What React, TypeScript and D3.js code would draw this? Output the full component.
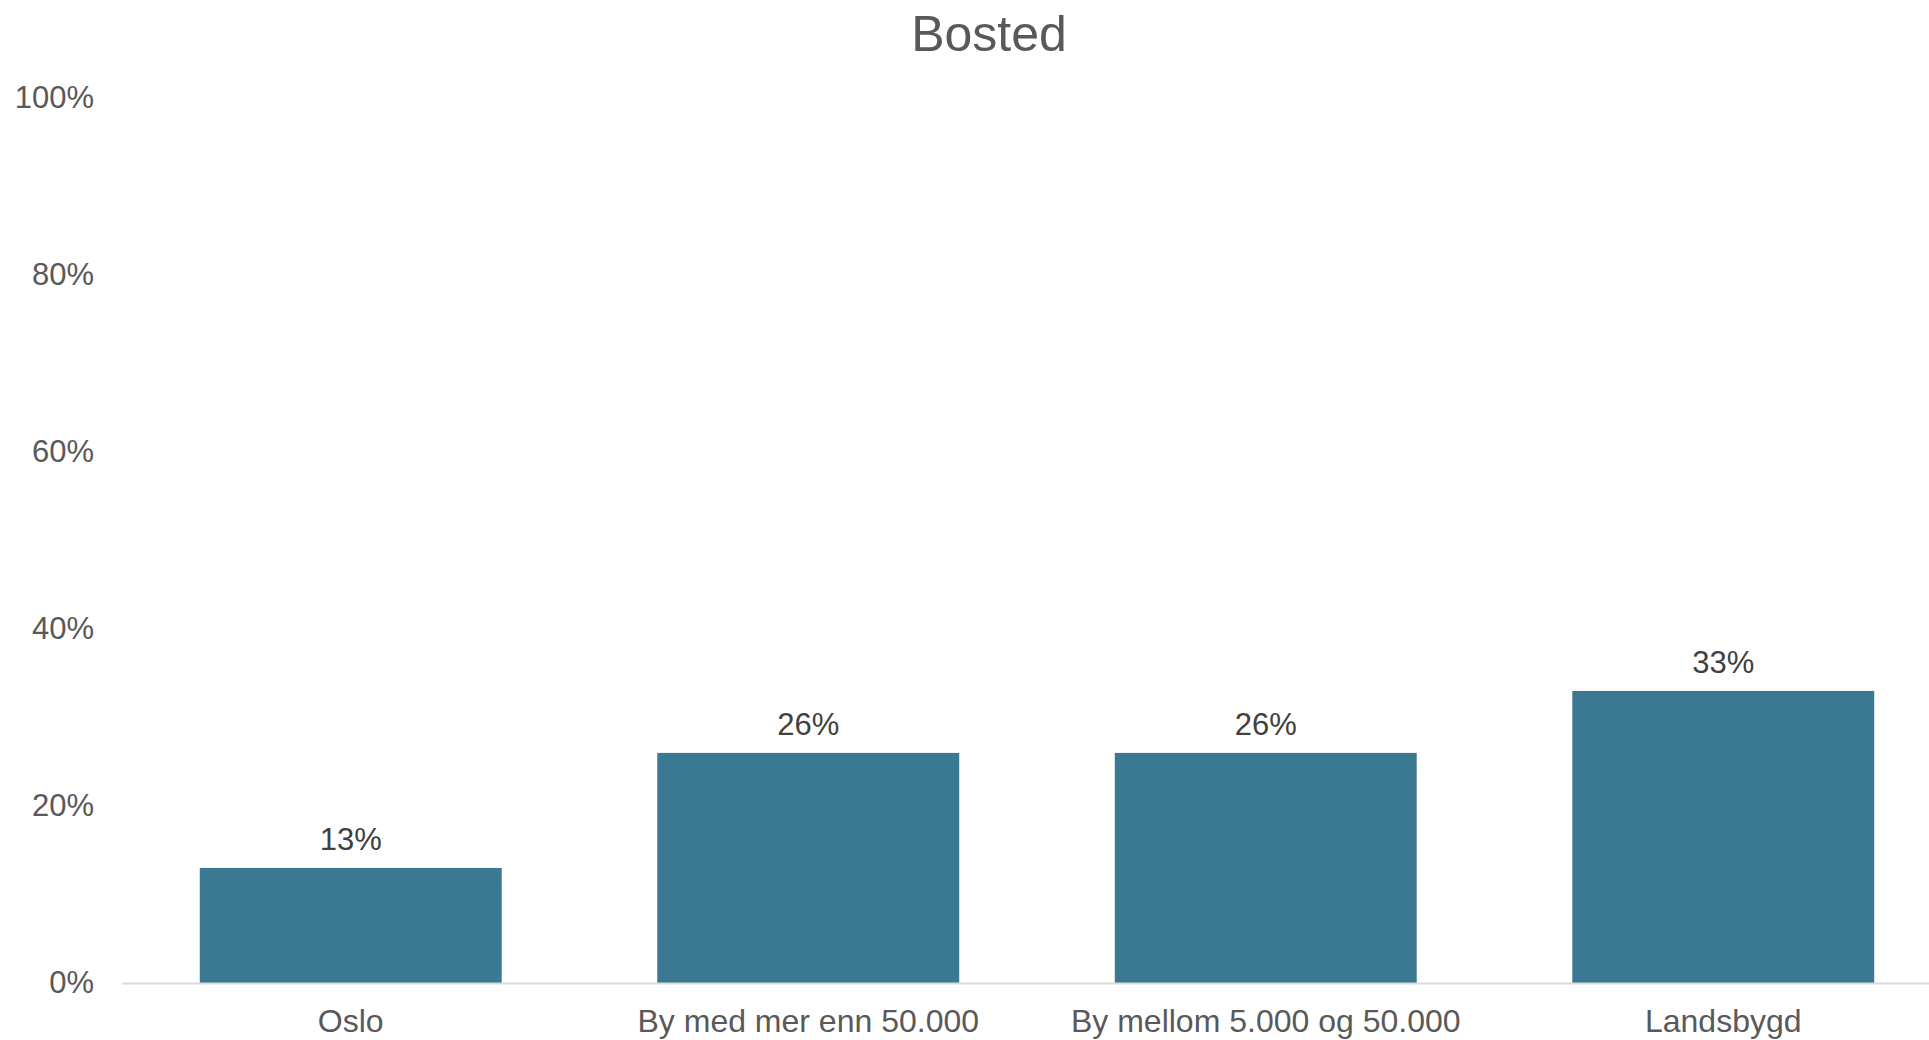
import React from "react";
import * as d3 from "d3";

const categories = ["Oslo", "By med mer enn 50.000", "By mellom 5.000 og 50.000", "Landsbygd"];
const values = [0.13, 0.26, 0.26, 0.33];
const yTicks = [0, 0.2, 0.4, 0.6, 0.8, 1.0];
const title = "Bosted";

const W = 1929;
const H = 1040;
const FONT = "'Liberation Sans', Arial, sans-serif";

export default function App() {
  const x = d3
    .scaleBand<string>()
    .domain(categories)
    .range([122, 1952])
    .paddingInner(0.34)
    .paddingOuter(0.17);
  const y = d3.scaleLinear().domain([0, 1]).range([983, 98]);
  const fmt = d3.format(".0%");

  return (
    <svg
      width={W}
      height={H}
      style={{ position: "absolute", left: 0, top: 0, background: "#fff" }}
      fontFamily={FONT}
    >
      <text x={989} y={51} textAnchor="middle" fontSize={50} fill="#595959">
        {title}
      </text>
      {yTicks.map((t) => (
        <text key={t} x={94} y={y(t) + 10} textAnchor="end" fontSize={31} fill="#595959">
          {fmt(t)}
        </text>
      ))}
      {categories.map((c, i) => (
        <g key={c}>
          <rect
            x={x(c)}
            y={y(values[i])}
            width={x.bandwidth()}
            height={y(0) - y(values[i])}
            fill="#3B7891"
          />
          <text
            x={(x(c) ?? 0) + x.bandwidth() / 2}
            y={y(values[i]) - 18}
            textAnchor="middle"
            fontSize={31}
            fill="#404040"
          >
            {fmt(values[i])}
          </text>
          <text
            x={(x(c) ?? 0) + x.bandwidth() / 2}
            y={1032}
            textAnchor="middle"
            fontSize={32}
            fill="#595959"
          >
            {c}
          </text>
        </g>
      ))}
      <line x1={122} x2={W} y1={y(0) + 0.5} y2={y(0) + 0.5} stroke="#D9D9D9" strokeWidth={2} />
    </svg>
  );
}
